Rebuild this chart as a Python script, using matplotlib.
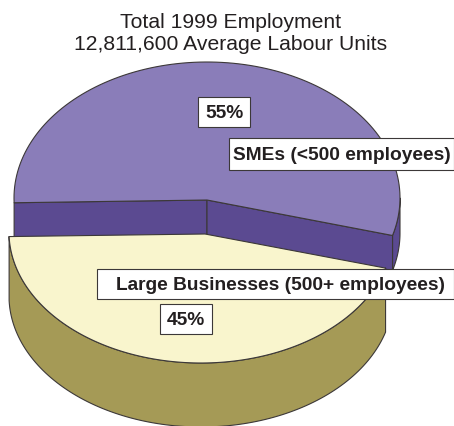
import numpy as np
import matplotlib
matplotlib.use('Agg')
import matplotlib.pyplot as plt
from matplotlib.patches import Polygon, Rectangle

plt.rcParams['font.family'] = ['Liberation Sans', 'DejaVu Sans']

title_lines = ['Total 1999 Employment', '12,811,600 Average Labour Units']
shares = [55, 45]
pct_labels = ['55%', '45%']
names = ['SMEs (<500 employees)', 'Large Businesses (500+ employees)']

top_colors = ['#8A7DB9', '#F9F5CD']
side_colors = ['#5B4A91', '#A59A56']
edge = '#3C3838'

start = -16.0   # pie starts just below the right hand side
sweep = np.array(shares) / sum(shares) * 360

fig = plt.figure(figsize=(4.54, 4.26), dpi=100)
ax = fig.add_axes([0, 0, 1, 1])
ax.set_xlim(0, 454)
ax.set_ylim(426, 0)
ax.axis('off')


def arc(cx, cy, rx, ry, a0, a1):
    a = np.radians(np.linspace(a0, a1, 120))
    return np.column_stack([cx + rx * np.cos(a), cy - ry * np.sin(a)])


def shape(pts, color, z):
    ax.add_patch(Polygon(pts, closed=True, fc=color, ec=edge, lw=0.8, zorder=z, joinstyle='round'))


# SMEs slice, at the back
cx, cy, rx, ry, depth = 207, 198, 193, 136, 35
a0, a1 = start, start + sweep[0]
top = arc(cx, cy, rx, ry, a0, a1)
apex = np.array([207, 200])
drop = np.array([0, depth])
rim = arc(cx, cy, rx, ry, a0, 0)
shape(np.vstack([rim, rim[::-1] + drop]), side_colors[0], 1)
shape([top[-1], apex, apex + drop, top[-1] + drop], side_colors[0], 2)
shape([apex, top[0], top[0] + drop, apex + drop], side_colors[0], 2)
shape(np.vstack([apex, top]), top_colors[0], 3)

# large businesses slice, pulled out to the front
cx, cy, rx, ry, depth = 201, 232, 192, 131, 64
a0, a1 = start + sweep[0], start + 360
top = arc(cx, cy, rx, ry, a0, a1)
apex = np.array([205, 234])
drop = np.array([0, depth])
shape(np.vstack([top, top[::-1] + drop]), side_colors[1], 4)
shape(np.vstack([apex, top]), top_colors[1], 5)

# title
ax.text(231, 23, title_lines[0], ha='center', va='center', fontsize=15.2, color='#231F20', zorder=9)
ax.text(231, 45, title_lines[1], ha='center', va='center', fontsize=15.2, color='#231F20', zorder=9)

# label boxes: x0, y0, x1, y1, then where the text is centred
boxes = [(198, 97, 250, 127), (160, 304, 212, 334), (229, 138, 454, 170), (97, 269, 454, 299)]
text_x = [224, 186, 341.5, 280]
texts = pct_labels + names
for (x0, y0, x1, y1), tx, s in zip(boxes, text_x, texts):
    ax.add_patch(Rectangle((x0, y0), x1 - x0, y1 - y0, fc='white', ec='#3C3838', lw=0.8, zorder=7))
    ax.text(tx, (y0 + y1) / 2 + 1.5, s, ha='center', va='center', fontsize=13.8,
            fontweight='bold', color='#231F20', zorder=8)

fig.savefig('out.png', dpi=100)
